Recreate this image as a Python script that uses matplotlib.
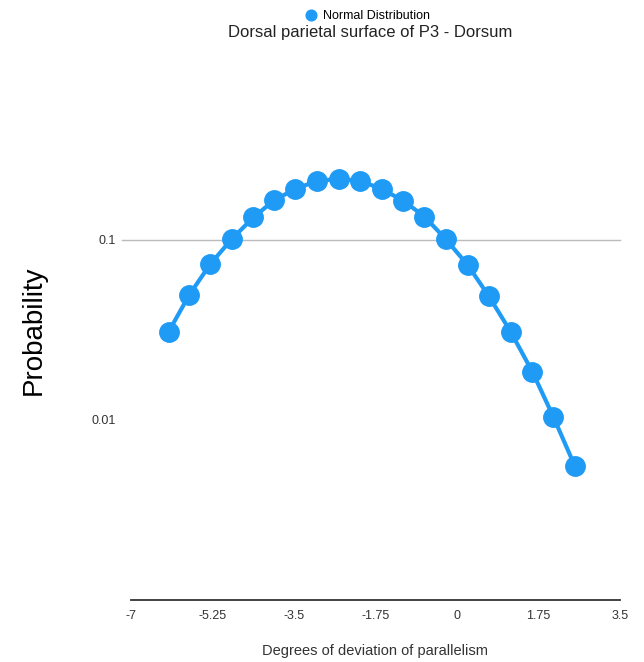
import matplotlib.pyplot as plt
from matplotlib.ticker import NullLocator

# values
degrees = [-6.19, -5.75, -5.30, -4.84, -4.37, -3.92, -3.47, -3.00, -2.54, -2.08,
           -1.60, -1.15, -0.70, -0.24, 0.23, 0.68, 1.15, 1.62, 2.07, 2.53]
probability = [0.0310, 0.0495, 0.0733, 0.101, 0.1337, 0.1668, 0.192, 0.2135, 0.218, 0.2135,
               0.191, 0.165, 0.135, 0.101, 0.0726, 0.0489, 0.0310, 0.0185, 0.0104, 0.00555]
x_ticks = [-7, -5.25, -3.5, -1.75, 0, 1.75, 3.5]
x_tick_labels = ["-7", "-5.25", "-3.5", "-1.75", "0", "1.75", "3.5"]
y_ticks = [0.01, 0.1]
y_tick_labels = ["0.01", "0.1"]

plt.rcParams["font.family"] = ["Liberation Sans", "DejaVu Sans"]
blue = "#1F9BF6"

fig = plt.figure(figsize=(6.44, 6.62), dpi=100)
ax = fig.add_axes([131 / 644, 62 / 662, 489 / 644, 540 / 662])

ax.plot(degrees, probability, "-o", color=blue, lw=3, ms=14, mec=blue, mfc=blue,
        label="Normal Distribution", zorder=3)

ax.set_yscale("log")
ax.set_xlim(-7, 3.5)
ax.set_ylim(0.001, 1)
ax.set_xticks(x_ticks)
ax.set_xticklabels(x_tick_labels)
ax.set_yticks(y_ticks)
ax.set_yticklabels(y_tick_labels)
ax.yaxis.set_minor_locator(NullLocator())
ax.tick_params(length=0, labelsize=9, colors="#333333")
ax.tick_params(axis="x", pad=7)
ax.tick_params(axis="y", pad=11)

# only the 0.1 gridline shows in the reference, starting a bit left of the axis
ax.axhline(0.1, xmin=-0.018, xmax=1, color="#bbbbbb", lw=1, zorder=1, clip_on=False)

for s in ["top", "right", "left"]:
    ax.spines[s].set_visible(False)
ax.spines["bottom"].set_color("#333333")
ax.spines["bottom"].set_linewidth(1.3)

ax.set_xlabel("Degrees of deviation of parallelism", fontsize=10.5, color="#333333", labelpad=16)
ax.set_ylabel("Probability", fontsize=20, labelpad=32)

fig.text(370 / 644, 1 - 33 / 662, "Dorsal parietal surface of P3 - Dorsum",
         ha="center", va="center", fontsize=12, color="#222222")
fig.legend(loc="center", bbox_to_anchor=(368 / 644, 1 - 16 / 662), frameon=False,
           fontsize=9, markerscale=0.55, handlelength=0.8, handletextpad=0.6,
           borderaxespad=0)
leg = fig.legends[0]
for h in leg.legend_handles:
    h.set_linestyle("none")

fig.savefig("out.png", dpi=100)
